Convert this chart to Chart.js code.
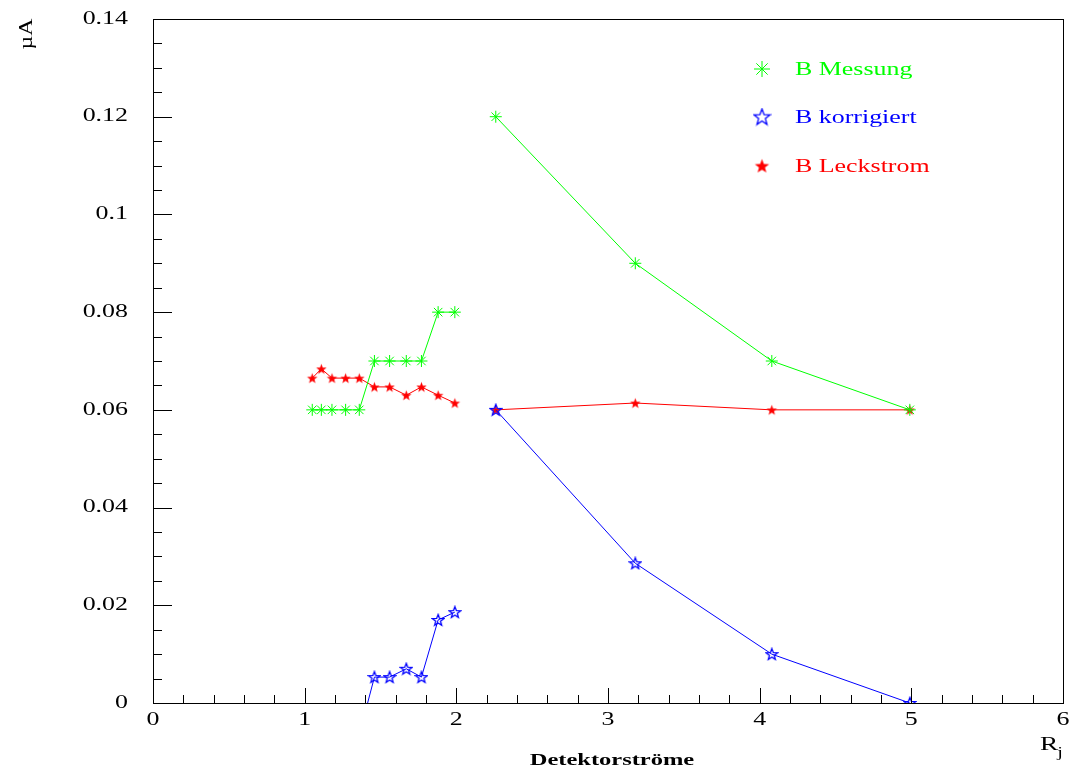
<!DOCTYPE html>
<html>
<head>
<meta charset="utf-8">
<script src="https://cdn.jsdelivr.net/npm/chart.js@4.4.1/dist/chart.umd.min.js"></script>
<style>
  html, body { margin: 0; padding: 0; background: #fff; }
  #wrap { width: 1071px; height: 771px; }
</style>
</head>
<body>
<div id="wrap"><canvas id="chart" width="1071" height="771"></canvas></div>
<script>
// detector currents (x) and measured values in uA
var xValues = [1.05, 1.11, 1.18, 1.27, 1.36, 1.46, 1.56, 1.67, 1.77, 1.88, 1.99, 2.26, 3.18, 4.08, 4.99];
var messung = [0.06, 0.06, 0.06, 0.06, 0.06, 0.07, 0.07, 0.07, 0.07, 0.08, 0.08, 0.12, 0.09, 0.07, 0.06];
var leckstrom = [0.0665, 0.0684, 0.0665, 0.0665, 0.0665, 0.0647, 0.0647, 0.0630, 0.0647, 0.0630, 0.0614, 0.0600, 0.0614, 0.0600, 0.0600];
var korrigiert = [-0.0065, -0.0084, -0.0065, -0.0065, -0.0065, 0.0053, 0.0053, 0.0070, 0.0053, 0.0170, 0.0186, 0.0600, 0.0286, 0.0100, 0.0000];
var seriesNames = ['B Messung', 'B korrigiert', 'B Leckstrom'];
var yTicks = [0, 0.02, 0.04, 0.06, 0.08, 0.1, 0.12, 0.14];
var xTicks = [0, 1, 2, 3, 4, 5, 6];

var GREEN = 'rgb(0,255,0)', BLUE = 'rgb(0,0,255)', RED = 'rgb(255,0,0)';
var FONT = '"Liberation Serif", "Times New Roman", serif';
var STRETCH = 1.44; // original text is wide Times

function toPoints(ys) {
    return xValues.map(function (x, i) { return { x: x, y: ys[i] }; });
}

// 5-point star marker as small canvas
function makeStar(color, filled, size) {
    var c = document.createElement('canvas');
    c.width = size; c.height = size;
    var g = c.getContext('2d');
    var cx = size / 2, cy = size / 2 + 0.5, ro = size / 2 - 1, ri = ro * 0.42;
    g.beginPath();
    for (var i = 0; i < 10; i++) {
        var r = i % 2 === 0 ? ro : ri;
        var a = -Math.PI / 2 + i * Math.PI / 5;
        g.lineTo(cx + r * Math.cos(a), cy + r * Math.sin(a));
    }
    g.closePath();
    if (filled) { g.fillStyle = color; g.fill(); }
    else { g.strokeStyle = color; g.lineWidth = 1.3; g.stroke(); }
    return c;
}
var openStar = makeStar(BLUE, false, 14);
var fullStar = makeStar(RED, true, 13);

// break line between the two measurement groups
function gap(color) {
    return function (ctx) { return ctx.p0DataIndex === 10 ? 'rgba(0,0,0,0)' : color; };
}

function text(ctx, str, x, y, font, align, color) {
    ctx.save();
    ctx.font = font;
    ctx.fillStyle = color || '#000';
    ctx.textBaseline = 'middle';
    ctx.textAlign = align;
    ctx.translate(x, y);
    ctx.scale(STRETCH, 1);
    ctx.fillText(str, 0, 0);
    ctx.restore();
}

var framePlugin = {
    id: 'frame',
    afterDraw: function (chart) {
        var ctx = chart.ctx, a = chart.chartArea;
        var xs = chart.scales.x, ys = chart.scales.y;
        ctx.save();
        ctx.strokeStyle = '#000';
        ctx.lineWidth = 1;
        ctx.strokeRect(a.left + 0.5, a.top + 0.5, a.right - a.left, a.bottom - a.top);
        // inside ticks on x
        for (var k = 0; k <= 30; k++) {
            var px = Math.round(xs.getPixelForValue(k * 0.2)) + 0.5;
            ctx.beginPath();
            ctx.moveTo(px, a.bottom);
            ctx.lineTo(px, a.bottom - (k % 5 === 0 ? 15 : 8));
            ctx.stroke();
        }
        // inside ticks on y
        for (var m = 0; m <= 28; m++) {
            var py = Math.round(ys.getPixelForValue(m * 0.005)) + 0.5;
            ctx.beginPath();
            ctx.moveTo(a.left, py);
            ctx.lineTo(a.left + (m % 4 === 0 ? 19 : 9), py);
            ctx.stroke();
        }
        ctx.restore();

        var f = '18px ' + FONT;
        xTicks.forEach(function (v) {
            text(ctx, String(v), xs.getPixelForValue(v), a.bottom + 17, f, 'center');
        });
        yTicks.forEach(function (v) {
            text(ctx, String(v), a.left - 25, ys.getPixelForValue(v), f, 'right');
        });

        // axis titles
        text(ctx, 'Detektorströme', 612, 761, 'bold 17px ' + FONT, 'center');
        text(ctx, 'R', 1049, 745, '19px ' + FONT, 'center');
        text(ctx, 'j', 1060, 753, '14px ' + FONT, 'center');
        ctx.save();
        ctx.translate(27, 34);
        ctx.rotate(-Math.PI / 2);
        ctx.scale(1.25, 1);
        ctx.font = '19px ' + FONT;
        ctx.fillStyle = '#000';
        ctx.textAlign = 'center';
        ctx.textBaseline = 'middle';
        ctx.fillText('\u00b5A', 0, 0);
        ctx.restore();

        // legend
        var colors = [GREEN, BLUE, RED];
        var ly = [69, 117, 166];
        for (var i = 0; i < 3; i++) {
            text(ctx, seriesNames[i], 795, ly[i] + 1, '18px ' + FONT, 'left', colors[i]);
        }
        ctx.save();
        ctx.strokeStyle = GREEN;
        ctx.lineWidth = 1;
        ctx.beginPath();
        var r = 8;
        for (var j = 0; j < 4; j++) {
            var ang = j * Math.PI / 4;
            ctx.moveTo(762 - r * Math.cos(ang), 69 - r * Math.sin(ang));
            ctx.lineTo(762 + r * Math.cos(ang), 69 + r * Math.sin(ang));
        }
        ctx.stroke();
        ctx.drawImage(makeStar(BLUE, false, 19), 762 - 9.5, 117 - 9.5);
        ctx.drawImage(makeStar(RED, true, 17), 762 - 8.5, 166 - 8.5);
        ctx.restore();
    }
};

var ctx = document.getElementById('chart').getContext('2d');
var chart = new Chart(ctx, {
    type: 'line',
    data: {
        datasets: [{
            label: seriesNames[0],
            data: toPoints(messung),
            borderColor: GREEN,
            backgroundColor: GREEN,
            borderWidth: 1,
            pointStyle: 'star',
            pointRadius: 6,
            pointBorderWidth: 1,
            segment: { borderColor: gap(GREEN) }
        }, {
            label: seriesNames[1],
            data: toPoints(korrigiert),
            borderColor: BLUE,
            backgroundColor: BLUE,
            borderWidth: 1,
            pointStyle: openStar,
            segment: { borderColor: gap(BLUE) }
        }, {
            label: seriesNames[2],
            data: toPoints(leckstrom),
            borderColor: RED,
            backgroundColor: RED,
            borderWidth: 1,
            pointStyle: fullStar,
            segment: { borderColor: gap(RED) }
        }]
    },
    options: {
        responsive: false,
        animation: false,
        layout: { padding: { left: 0, top: 19, right: 8, bottom: 0 } },
        plugins: { legend: { display: false }, tooltip: { enabled: false } },
        scales: {
            x: {
                type: 'linear',
                min: 0, max: 6,
                grid: { display: false, drawTicks: false },
                border: { display: false },
                ticks: { display: false, stepSize: 1 },
                afterFit: function (s) { s.height = 68; }
            },
            y: {
                min: 0, max: 0.14,
                grid: { display: false, drawTicks: false },
                border: { display: false },
                ticks: { display: false, stepSize: 0.02 },
                afterFit: function (s) { s.width = 153; }
            }
        }
    },
    plugins: [framePlugin]
});
</script>
</body>
</html>
